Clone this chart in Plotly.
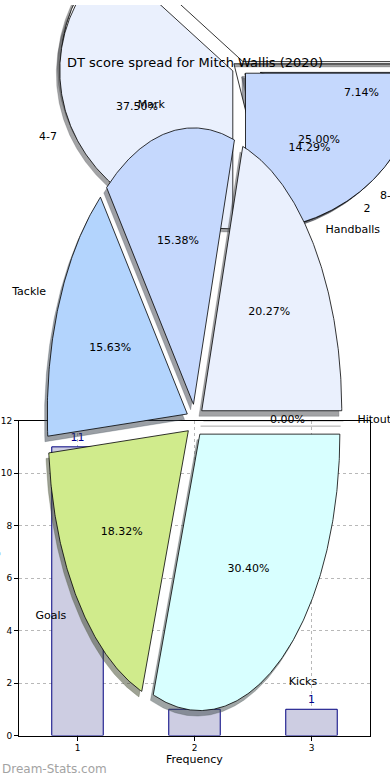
import numpy as np
import plotly.graph_objects as go

# ---------------- data ----------------
# histogram (bar) panel
freq_x = [1, 2, 3]
freq_y = [11, 1, 1]
freq_text = ["11", "1", "1"]
x_ticks = [1, 2, 3]
y_ticks = [0, 2, 4, 6, 8, 10, 12]

# stat breakdown pie
stat_labels = ["Hitout", "Handballs", "Mark", "Tackle", "Goals", "Kicks"]
stat_pct = [0.00, 20.27, 15.38, 15.63, 18.32, 30.40]

# DT score spread pie
spread_labels = ["0-3", "4-7", "8-11"]
spread_pct = [37.50, 37.50, 25.00]

# second spread pie (drawn underneath)
spread2_labels = ["1", "2", "3"]
spread2_pct = [78.57, 14.29, 7.14]

pie_colors = ["#ffffff", "#eaf0fd", "#c5d8fd", "#b3d4fd", "#d0eb8c", "#d8ffff"]

title_text = "DT score spread for Mitch Wallis (2020)"

# ---------------- layout constants ----------------
W, H = 390, 780
FONT = "DejaVu Sans"
PIE_A = dict(cx=195, cy=421, rx=140, ry=280, explode=[0.06] * 6)
PIE_B = dict(cx=240, cy=64, rx=173, ry=160, explode=[0.045] * 3)
PIE_C = dict(cx=240, cy=64, rx=173, ry=160, explode=[0.045, 0.045, 0.12])


def hex_rgb(h):
    h = h.lstrip("#")
    return tuple(int(h[i:i + 2], 16) for i in (0, 2, 4))


def pie_geometry(pcts, geo):
    """Return list of wedge dicts computed from the percentages."""
    out = []
    start = 0.0
    for i, p in enumerate(pcts):
        sweep = 360.0 * p / 100.0
        t0, t1 = start, start + sweep
        mid = np.deg2rad((t0 + t1) / 2)
        e = geo["explode"][i]
        ax = geo["cx"] + e * geo["rx"] * np.cos(mid)
        ay = geo["cy"] - e * geo["ry"] * np.sin(mid)
        th = np.deg2rad(np.linspace(t0, t1, max(2, int(sweep * 2) + 2)))
        xs = np.concatenate([[ax], ax + geo["rx"] * np.cos(th), [ax]])
        ys = np.concatenate([[ay], ay - geo["ry"] * np.sin(th), [ay]])
        out.append(dict(ax=ax, ay=ay, mid=mid, xs=xs, ys=ys))
        start = t1
    return out


def shadow_traces(wedges, geo, colors):
    tr = []
    dx, dy = -0.02 * geo["rx"], 0.02 * geo["ry"]
    for w, c in zip(wedges, colors):
        r, g, b = (int(0.3 * v) for v in hex_rgb(c))
        tr.append(go.Scatter(x=w["xs"] + dx, y=w["ys"] + dy, mode="lines", fill="toself",
                             fillcolor=f"rgba({r},{g},{b},0.5)",
                             line=dict(color=f"rgba({r},{g},{b},0.5)", width=0.5),
                             xaxis="x2", yaxis="y2", hoverinfo="skip", showlegend=False))
    return tr


def wedge_traces(wedges, colors):
    tr = []
    for w, c in zip(wedges, colors):
        tr.append(go.Scatter(x=w["xs"], y=w["ys"], mode="lines", fill="toself",
                             fillcolor=c, line=dict(color="black", width=0.8),
                             xaxis="x2", yaxis="y2", hoverinfo="skip", showlegend=False))
    return tr


def text_traces(wedges, geo, pcts, labels):
    px, py, ptxt = [], [], []
    lx, ly, ltxt, lpos = [], [], [], []
    for w, p, lab in zip(wedges, pcts, labels):
        c, s = np.cos(w["mid"]), np.sin(w["mid"])
        px.append(w["ax"] + 0.6 * geo["rx"] * c)
        py.append(w["ay"] - 0.6 * geo["ry"] * s)
        ptxt.append(f"{p:.2f}%")
        lx.append(w["ax"] + 1.1 * geo["rx"] * c)
        ly.append(w["ay"] - 1.1 * geo["ry"] * s)
        ltxt.append(lab)
        lpos.append("middle right" if c >= 0 else "middle left")
    f = dict(family=FONT, size=11, color="black")
    return [
        go.Scatter(x=px, y=py, text=ptxt, mode="text", textposition="middle center",
                   textfont=f, xaxis="x2", yaxis="y2", hoverinfo="skip",
                   showlegend=False, cliponaxis=False),
        go.Scatter(x=lx, y=ly, text=ltxt, mode="text", textposition=lpos,
                   textfont=f, xaxis="x2", yaxis="y2", hoverinfo="skip",
                   showlegend=False, cliponaxis=False),
    ]


fig = go.Figure()

# ---- bar panel ----
fig.add_trace(go.Bar(x=freq_x, y=freq_y, text=freq_text, textposition="outside",
                     width=0.44, marker=dict(color="#cdcde2", line=dict(color="#000080", width=1)),
                     textfont=dict(family=FONT, size=11, color="#00008b"),
                     cliponaxis=False, showlegend=False, hoverinfo="skip"))

# ---- spread pies (C underneath B) ----
wc = pie_geometry(spread2_pct, PIE_C)
wb = pie_geometry(spread_pct, PIE_B)
colors_c = pie_colors[:len(spread2_pct)]
colors_b = pie_colors[:len(spread_pct)]
for t in shadow_traces(wc, PIE_C, colors_c) + shadow_traces(wb, PIE_B, colors_b):
    fig.add_trace(t)
for t in wedge_traces(wc, colors_c) + wedge_traces(wb, colors_b):
    fig.add_trace(t)
for t in text_traces(wc, PIE_C, spread2_pct, spread2_labels) + \
        text_traces(wb, PIE_B, spread_pct, spread_labels):
    fig.add_trace(t)

# ---- stat pie on top ----
wa = pie_geometry(stat_pct, PIE_A)
colors_a = pie_colors[:len(stat_pct)]
for t in shadow_traces(wa, PIE_A, colors_a) + wedge_traces(wa, colors_a) + \
        text_traces(wa, PIE_A, stat_pct, stat_labels):
    fig.add_trace(t)

axis_common = dict(showline=True, mirror=True, linecolor="black", linewidth=1,
                   ticks="outside", ticklen=4, tickcolor="black", tickwidth=1,
                   showgrid=True, gridcolor="#b8b8b8", griddash="dot", gridwidth=1,
                   zeroline=False, tickfont=dict(family=FONT, size=9, color="black"))

fig.update_layout(
    width=W, height=H, autosize=False,
    margin=dict(l=0, r=0, t=0, b=0),
    paper_bgcolor="white", plot_bgcolor="rgba(0,0,0,0)",
    showlegend=False,
    xaxis=dict(domain=[19 / W, 370 / W], range=[0.5, 3.5], tickvals=x_ticks,
               anchor="y", **axis_common),
    yaxis=dict(domain=[40 / H, 359 / H], range=[0, 12], tickvals=y_ticks,
               anchor="x", **axis_common),
    xaxis2=dict(domain=[0, 1], range=[0, W], visible=False, anchor="y2", fixedrange=True),
    yaxis2=dict(domain=[0, 1], range=[H, 0], visible=False, anchor="x2", fixedrange=True),
    annotations=[
        dict(text=title_text, x=0.5, y=(H - 58) / H, xref="paper", yref="paper",
             xanchor="center", yanchor="middle", showarrow=False,
             font=dict(family=FONT, size=13, color="black")),
        dict(text="Frequency", x=194.5 / W, y=(H - 764) / H, xref="paper", yref="paper",
             xanchor="center", yanchor="middle", showarrow=False,
             font=dict(family=FONT, size=11, color="black")),
        dict(text="Score Range", x=-5.5 / W, y=(H - 580) / H, xref="paper", yref="paper",
             xanchor="center", yanchor="middle", showarrow=False, textangle=-90,
             font=dict(family=FONT, size=11, color="black")),
        dict(text="Dream-Stats.com", x=0, y=(H - 774) / H, xref="paper", yref="paper",
             xanchor="left", yanchor="middle", showarrow=False,
             font=dict(family=FONT, size=12, color="#a3a3a3")),
    ],
)

fig.write_html("out.html",
               config={"displayModeBar": False, "staticPlot": True},
               post_script="document.body.style.margin='0';"
                           "document.body.style.overflow='hidden';")
